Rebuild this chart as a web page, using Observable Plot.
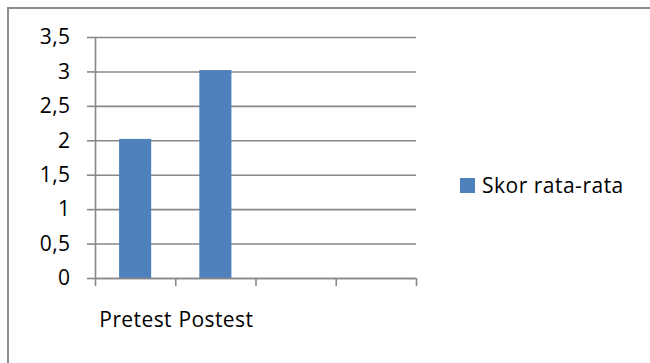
<!DOCTYPE html>
<html>
<head>
<meta charset="utf-8">
<script src="https://cdn.jsdelivr.net/npm/d3@7"></script>
<script src="https://cdn.jsdelivr.net/npm/@observablehq/plot@0.6"></script>
<style>
  html, body { margin: 0; padding: 0; background: #fff; overflow: hidden; }
  #wrap { position: relative; width: 650px; height: 363px; overflow: hidden; font-family: "Open Sans", sans-serif; }
  #border { position: absolute; left: 7px; top: 7px; width: 700px; height: 400px; border: 2px solid #8c8c8c; box-sizing: border-box; }
  #chart { position: absolute; left: 0; top: 0; }
  #legend { position: absolute; left: 460px; top: 175px; height: 21px; display: flex; align-items: center; font-size: 21px; line-height: 21px; letter-spacing: 0.5px; color: #000; }
  #legend .sw { width: 15px; height: 15px; background: #4f81bd; margin-right: 7px; }
</style>
</head>
<body>
<div id="wrap">
  <div id="border"></div>
  <div id="chart"></div>
  <div id="legend"><span class="sw"></span><span id="legtext"></span></div>
</div>
<script>
const categories = ["Pretest", "Postest", "", ""];
const values = [2.02, 3.02];
const seriesName = "Skor rata-rata";
const yTicks = [0, 0.5, 1, 1.5, 2, 2.5, 3, 3.5];

const data = values.map((v, i) => ({cat: categories[i], idx: i, value: v}));
const slotBounds = d3.range(categories.length + 1);
const slotCenters = categories.map((c, i) => i + 0.5);
const fmt = v => String(v).replace(".", ",");
const gridColor = "#888888";

document.getElementById("legtext").textContent = seriesName;

const chart = Plot.plot({
  width: 650,
  height: 363,
  marginLeft: 95,
  marginRight: 234,
  marginTop: 37,
  marginBottom: 85,
  style: {fontFamily: "'Open Sans', sans-serif", fontSize: "21px", letterSpacing: "0.4px", color: "#000", background: "transparent"},
  x: {type: "linear", domain: [0, categories.length]},
  y: {domain: [0, 3.5]},
  marks: [
    Plot.gridY(yTicks, {stroke: gridColor, strokeOpacity: 1, strokeWidth: 1.6}),
    Plot.rectY(data, {x1: d => d.idx + 0.3, x2: d => d.idx + 0.7, y: "value", fill: "#4f81bd"}),
    Plot.ruleX([0], {stroke: gridColor, strokeWidth: 1.6}),
    Plot.ruleY([0], {stroke: gridColor, strokeWidth: 1.6}),
    Plot.axisY({ticks: yTicks, tickFormat: fmt, tickSize: 8, tickPadding: 17, stroke: gridColor, strokeWidth: 1.6, label: null, fill: "#000", fontSize: 21}),
    Plot.axisX({ticks: slotBounds, tickFormat: () => "", tickSize: 8, stroke: gridColor, strokeWidth: 1.6, label: null}),
    Plot.axisX({ticks: slotCenters, tickFormat: (d) => categories[Math.floor(d)], tickSize: 0, tickPadding: 34, label: null, fill: "#000", fontSize: 21})
  ]
});
document.getElementById("chart").appendChild(chart);
</script>
</body>
</html>
